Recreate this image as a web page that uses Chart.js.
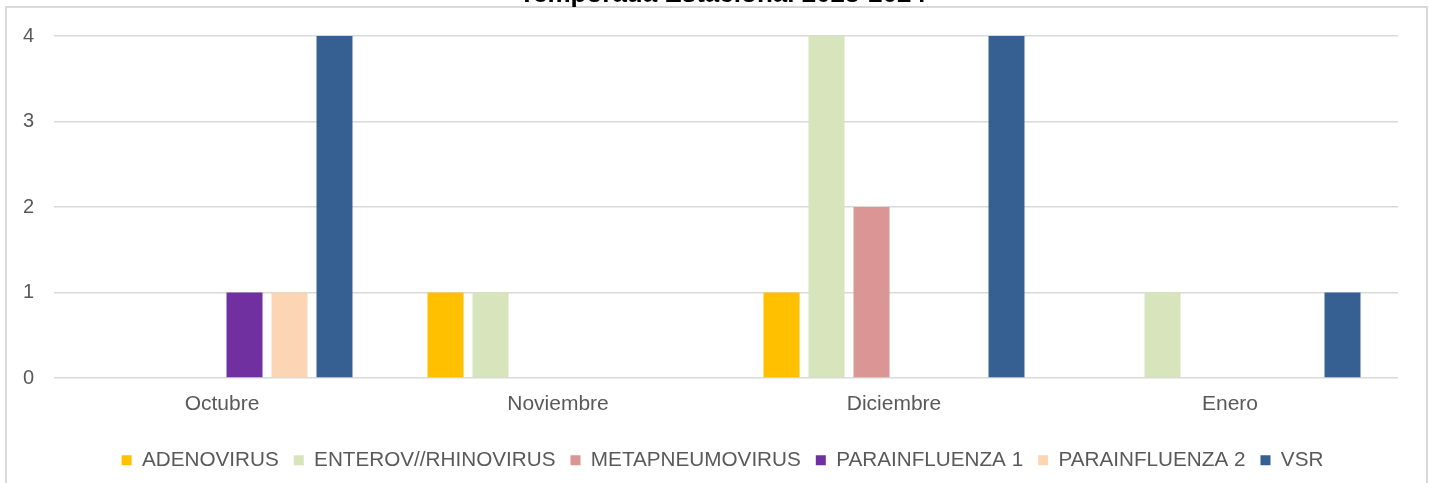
<!DOCTYPE html>
<html>
<head>
<meta charset="utf-8">
<script src="https://cdn.jsdelivr.net/npm/chart.js@4"></script>
<style>
  html, body { margin: 0; padding: 0; background: #ffffff; overflow: hidden; }
  body { width: 1429px; height: 483px; position: relative; }
  #frame { position: absolute; left: 5px; top: 6px; width: 1419px; height: 600px; border: 2px solid #D9D9D9; z-index: 0; }
  #wrap { position: absolute; left: 0; top: -21px; width: 1429px; height: 504px; z-index: 1; }
</style>
</head>
<body>
<div id="frame"></div>
<div id="wrap"><canvas id="c" width="1429" height="504" style="width:1429px;height:504px"></canvas></div>
<script>
const titleText = "Temporada Estacional 2023-2024";
const categories = ["Octubre", "Noviembre", "Diciembre", "Enero"];
const seriesNames = ["ADENOVIRUS", "ENTEROV//RHINOVIRUS", "METAPNEUMOVIRUS", "PARAINFLUENZA 1", "PARAINFLUENZA 2", "VSR"];
const adenovirus = [0, 1, 1, 0];
const enterovRhinovirus = [0, 1, 4, 1];
const metapneumovirus = [0, 0, 2, 0];
const parainfluenza1 = [1, 0, 0, 0];
const parainfluenza2 = [1, 0, 0, 0];
const vsr = [4, 0, 4, 1];
const yTicks = [0, 1, 2, 3, 4];

const seriesValues = [adenovirus, enterovRhinovirus, metapneumovirus, parainfluenza1, parainfluenza2, vsr];
const seriesColors = ["#FFC000", "#D8E4BC", "#DA9694", "#7030A0", "#FCD5B4", "#366092"];

const font = "'Liberation Sans', Arial, sans-serif";
const textColor = "#595959";

new Chart(document.getElementById("c"), {
  type: "bar",
  data: {
    labels: categories,
    datasets: seriesNames.map((name, i) => ({
      label: name,
      data: seriesValues[i],
      backgroundColor: seriesColors[i],
      borderWidth: 0,
      yAxisID: "y",
      categoryPercentage: 270 / 336,
      barPercentage: 0.8
    }))
  },
  options: {
    responsive: false,
    animation: false,
    devicePixelRatio: 1,
    layout: { padding: { left: 16, right: 0, top: 0, bottom: 2.5 } },
    plugins: {
      title: {
        display: true,
        text: titleText,
        color: "#000000",
        font: { family: font, size: 26, weight: "bold" },
        padding: { top: 0, bottom: 25.8 }
      },
      legend: {
        position: "bottom",
        labels: {
          color: textColor,
          font: { family: font, size: 20.7 },
          boxWidth: 10,
          boxHeight: 10,
          padding: 15
        }
      },
      tooltip: { enabled: false }
    },
    scales: {
      x: {
        grid: { display: false, drawTicks: false },
        border: { display: false },
        ticks: { color: textColor, font: { family: font, size: 21 }, padding: 14, maxRotation: 0 },
        afterFit: (s) => { s.height = 56.8; }
      },
      y: {
        min: 0,
        max: 4,
        grid: { color: "#D9D9D9", lineWidth: 1.5, drawTicks: false },
        border: { display: false },
        afterBuildTicks: (s) => { s.ticks = yTicks.map(v => ({ value: v })); },
        ticks: { color: textColor, font: { family: font, size: 20 }, padding: 20, stepSize: 1 },
        afterFit: (s) => { s.width = 38; }
      },
      y2: {
        position: "right",
        display: true,
        grid: { display: false, drawTicks: false },
        border: { display: false },
        ticks: { display: false },
        afterFit: (s) => { s.width = 31; }
      }
    }
  }
});
</script>
</body>
</html>
